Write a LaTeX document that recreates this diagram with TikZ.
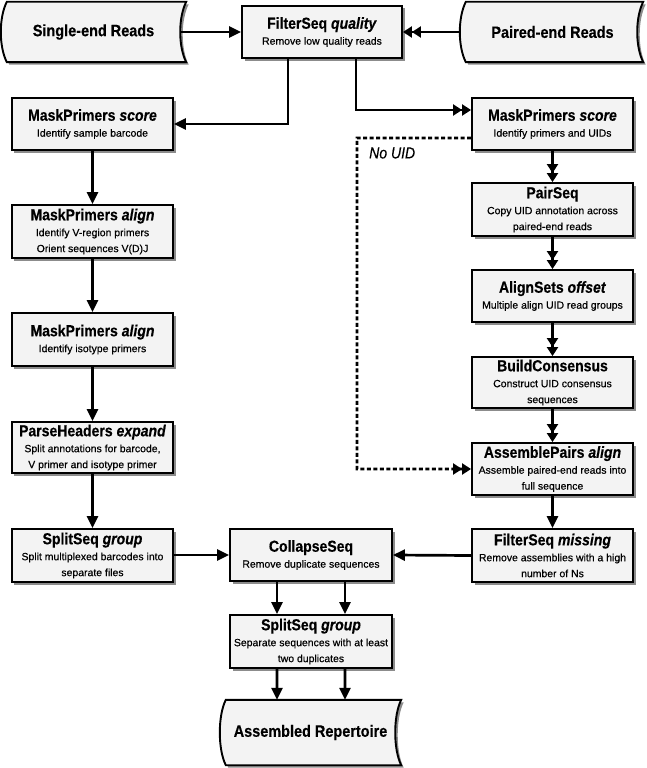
\documentclass[tikz,border=0pt]{standalone}
\usepackage{fontspec}
\setmainfont{Liberation Sans}
\newfontfamily\subfont{Liberation Sans}[FakeBold=0.5]
\newfontfamily\tfont{Liberation Sans}[FakeStretch=0.88,FakeBold=0.4]
\usetikzlibrary{arrows.meta,shadows,calc}
\definecolor{boxfill}{HTML}{F3F3F3}
\newcommand\ttl[1]{{\tfont\bfseries\fontsize{16}{18}\selectfont #1}}
\newcommand\sdshape[1]{%
  \draw[sd] ($(#1.north west)+(6,0)$) -- ($(#1.north east)+(6,0)$)
    .. controls ($(#1.north east)+(-2,16)$) and ($(#1.south east)+(-2,-16)$) .. ($(#1.south east)+(6,0)$)
    -- ($(#1.south west)+(6,0)$)
    .. controls ($(#1.south west)+(-2,-16)$) and ($(#1.north west)+(-2,16)$) .. cycle;}
\begin{document}
\begin{tikzpicture}[x=1bp,y=-1bp,
  shad/.style={drop shadow={shadow xshift=2.5bp,shadow yshift=-2.5bp,fill=black!45,opacity=1}},
  box/.style={draw=black, line width=1.9bp, fill=boxfill, shad, inner sep=1bp, align=center,
    minimum width=161bp, font=\subfont\fontsize{10.5}{16}\selectfont},
  sd/.style={draw=black, line width=1.9bp, fill=boxfill, shad},
  sdtext/.style={inner sep=0bp, minimum height=60bp, font=\tfont\bfseries\fontsize{16.5}{18}\selectfont},
  arr/.style={line width=2.7bp, -{Triangle[length=12bp,width=11bp]}},
  darr/.style={line width=2.7bp, -{Triangle[length=9bp,width=11bp,sep=0bp]Triangle[length=9bp,width=11bp]}},
  dsh/.style={darr, dash pattern=on 4bp off 2.5bp}
]
\useasboundingbox (0,0) rectangle (647,768);

% stored-data shapes
\node[sdtext, minimum width=179bp] (se) at (90.5,32) {};
\sdshape{se}
\node[sdtext, minimum width=179bp] at (se) {\hspace*{6bp}Single-end Reads};
\node[sdtext, minimum width=177bp] (pe) at (548.5,32) {};
\sdshape{pe}
\node[sdtext, minimum width=177bp] at (pe) {\hspace*{8bp}Paired-end Reads};
\node[sdtext, minimum width=175bp, minimum height=65bp] (ar) at (307.5,732.5) {};
\sdshape{ar}
\node[sdtext, minimum width=175bp, minimum height=65bp] at (ar) {\hspace*{6bp}Assembled Repertoire};

% process boxes
\node[box, minimum width=160bp, minimum height=52bp] (fq) at (322,32)
  {\ttl{FilterSeq \textit{quality}}\\Remove low quality reads};
\node[box, minimum height=52bp] (mpsL) at (92.5,124)
  {\ttl{MaskPrimers \textit{score}}\\Identify sample barcode};
\node[box, minimum height=53bp] (mpa1) at (92.5,231.5)
  {\ttl{MaskPrimers \textit{align}}\\Identify V-region primers\\Orient sequences V(D)J};
\node[box, minimum height=53bp] (mpa2) at (92.5,339.5)
  {\ttl{MaskPrimers \textit{align}}\\Identify isotype primers};
\node[box, minimum height=51bp] (ph) at (92.5,447.5)
  {\ttl{ParseHeaders \textit{expand}}\\Split annotations for barcode,\\V primer and isotype primer};
\node[box, minimum height=53bp] (ssL) at (92.5,555.5)
  {\ttl{SplitSeq \textit{group}}\\Split multiplexed barcodes into\\separate files};
\node[box, minimum width=162bp, minimum height=52bp] (cs) at (311,555)
  {\ttl{CollapseSeq}\\Remove duplicate sequences};
\node[box, minimum width=162bp, minimum height=53bp] (ssB) at (311,641.5)
  {\ttl{SplitSeq \textit{group}}\\Separate sequences with at least\\two duplicates};
\node[box, minimum height=52bp] (mpsR) at (552.5,124)
  {\ttl{MaskPrimers \textit{score}}\\Identify primers and UIDs};
\node[box, minimum height=53bp] (ps) at (552.5,209.5)
  {\ttl{PairSeq}\\Copy UID annotation across\\paired-end reads};
\node[box, minimum height=52bp] (as) at (552.5,296)
  {\ttl{AlignSets \textit{offset}}\\Multiple align UID read groups};
\node[box, minimum height=51bp] (bc) at (552.5,382.5)
  {\ttl{BuildConsensus}\\Construct UID consensus\\sequences};
\node[box, minimum height=52bp] (ap) at (552.5,469)
  {\ttl{AssemblePairs \textit{align}}\\Assemble paired-end reads into\\full sequence};
\node[box, minimum height=53bp] (fsm) at (552.5,555.5)
  {\ttl{FilterSeq \textit{missing}}\\Remove assemblies with a high\\number of Ns};

% connectors
\draw[arr] (se.east) -- (fq.west);
\draw[darr] (pe.west) -- (fq.east);
\draw[arr] ([xshift=-34bp]fq.south) |- (mpsL.east);
\draw[darr] ([xshift=34bp]fq.south) |- ([yshift=14bp]mpsR.west);
\draw[arr] (mpsL) -- (mpa1);
\draw[arr] (mpa1) -- (mpa2);
\draw[arr] (mpa2) -- (ph);
\draw[arr] (ph) -- (ssL);
\draw[arr] (ssL.east |- cs.west) -- (cs.west);
\draw[arr] (fsm.west) -- (cs.east);
\draw[arr] ([xshift=-34bp]cs.south) -- ([xshift=-34bp]ssB.north);
\draw[arr] ([xshift=34bp]cs.south) -- ([xshift=34bp]ssB.north);
\draw[arr] ([xshift=-34bp]ssB.south) -- ([xshift=-30.5bp]ar.north);
\draw[arr] ([xshift=34bp]ssB.south) -- ([xshift=37.5bp]ar.north);
\draw[darr] (mpsR) -- (ps);
\draw[darr] (ps) -- (as);
\draw[darr] (as) -- (bc);
\draw[darr] (bc) -- (ap);
\draw[arr] (ap) -- (fsm);
\coordinate (nu) at (357,138);
\draw[dsh] ([yshift=-14bp]mpsR.west) -- (nu) |- (ap.west);
\node[font=\tfont\itshape\fontsize{16}{18}\selectfont, anchor=west, inner sep=0bp] (nolabel) at (369,153) {No UID};
\end{tikzpicture}
\end{document}
